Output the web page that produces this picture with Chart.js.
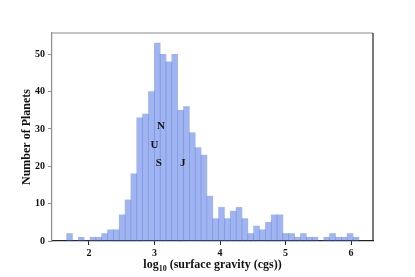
<!DOCTYPE html>
<html>
<head>
<meta charset="utf-8">
<script src="https://cdn.jsdelivr.net/npm/chart.js@4"></script>
<style>
  body { margin: 0; background: #fff; }
</style>
</head>
<body>
<canvas id="hist" width="415" height="277"></canvas>
<script>
// histogram bins (log10 g, cgs) and planet counts
const binCenters = [
    1.704, 1.793, 1.882, 1.971, 2.060, 2.150, 2.239, 2.328, 2.417, 2.507,
    2.596, 2.685, 2.774, 2.863, 2.953, 3.042, 3.131, 3.220, 3.309, 3.399,
    3.488, 3.577, 3.666, 3.755, 3.845, 3.934, 4.023, 4.112, 4.201, 4.291,
    4.380, 4.469, 4.558, 4.647, 4.737, 4.826, 4.915, 5.004, 5.093, 5.183,
    5.272, 5.361, 5.450, 5.539, 5.629, 5.718, 5.807, 5.896, 5.985, 6.075
];
const counts = [
    2, 0, 1, 0, 1, 1, 2, 3, 3, 7,
    11, 18, 33, 34, 40, 53, 50, 48, 50, 35,
    36, 29, 25, 23, 12, 6, 9, 6, 8, 9,
    6, 2, 4, 3, 5, 7, 7, 2, 2, 1,
    2, 1, 1, 0, 1, 2, 1, 1, 2, 1
];
const xTicks = [2, 3, 4, 5, 6];
const yTicks = [0, 10, 20, 30, 40, 50];

// solar system planets marked on the plot
const planetLabels = ['N', 'U', 'S', 'J'];
const planetLogG = [3.04, 2.94, 3.02, 3.39];
const planetY = [30, 25, 20, 20];

const serif = '"Liberation Serif", "DejaVu Serif", serif';

const extras = {
    id: 'extras',
    afterDraw(chart) {
        const ctx = chart.ctx;
        const a = chart.chartArea;
        const xs = chart.scales.x, ys = chart.scales.y;
        ctx.save();

        // top + right spines
        ctx.lineWidth = 1.2;
        ctx.strokeStyle = '#8c8c8c';
        ctx.beginPath();
        ctx.moveTo(a.left, a.top);
        ctx.lineTo(a.right, a.top);
        ctx.stroke();
        ctx.strokeStyle = '#222';
        ctx.beginPath();
        ctx.moveTo(a.right, a.top);
        ctx.lineTo(a.right, a.bottom);
        ctx.stroke();

        // planet letters
        ctx.fillStyle = '#111';
        ctx.font = 'bold 11px ' + serif;
        ctx.textAlign = 'left';
        ctx.textBaseline = 'alphabetic';
        planetLabels.forEach((p, i) => {
            ctx.fillText(p, xs.getPixelForValue(planetLogG[i]), ys.getPixelForValue(planetY[i]));
        });

        // x title with subscript
        const big = 'bold 12px ' + serif, small = 'bold 8px ' + serif;
        ctx.font = big;
        const w1 = ctx.measureText('log').width;
        const w3 = ctx.measureText(' (surface gravity (cgs))').width;
        ctx.font = small;
        const w2 = ctx.measureText('10').width;
        let x = (a.left + a.right) / 2 - (w1 + w2 + w3) / 2;
        const base = 268;
        ctx.font = big;
        ctx.fillText('log', x, base);
        x += w1;
        ctx.font = small;
        ctx.fillText('10', x, base + 3);
        x += w2;
        ctx.font = big;
        ctx.fillText(' (surface gravity (cgs))', x, base);

        // y title
        ctx.translate(27, (a.top + a.bottom) / 2);
        ctx.rotate(-Math.PI / 2);
        ctx.textAlign = 'center';
        ctx.textBaseline = 'middle';
        ctx.font = 'bold 12px ' + serif;
        ctx.fillText('Number of Planets', 0, 0);
        ctx.restore();
    }
};

new Chart(document.getElementById('hist'), {
    type: 'bar',
    data: {
        datasets: [{
            data: binCenters.map((c, i) => ({ x: c, y: counts[i] })),
            backgroundColor: 'rgba(65, 105, 225, 0.5)',
            borderWidth: 0,
            barPercentage: 1,
            categoryPercentage: 1
        }]
    },
    options: {
        responsive: false,
        animation: false,
        layout: { padding: { top: 33, right: 42, left: 0, bottom: 0 } },
        plugins: {
            legend: { display: false },
            tooltip: { enabled: false }
        },
        scales: {
            x: {
                type: 'linear',
                offset: false,
                min: 1.436,
                max: 6.335,
                afterBuildTicks: s => { s.ticks = xTicks.map(v => ({ value: v })); },
                afterFit: s => { s.height = 36; },
                grid: { offset: false, drawOnChartArea: false, tickLength: 4, color: '#222' },
                border: { color: '#222', width: 1.2 },
                ticks: {
                    color: '#111',
                    padding: 2,
                    maxRotation: 0,
                    font: { family: serif, size: 10, weight: 'bold' }
                }
            },
            y: {
                min: 0,
                max: 55.7,
                afterBuildTicks: s => { s.ticks = yTicks.map(v => ({ value: v })); },
                afterFit: s => { s.width = 52; },
                grid: { drawOnChartArea: false, tickLength: 4, color: '#8c8c8c' },
                border: { color: '#8c8c8c', width: 1.2 },
                ticks: {
                    color: '#111',
                    padding: 3,
                    font: { family: serif, size: 10, weight: 'bold' }
                }
            }
        }
    },
    plugins: [extras]
});
</script>
</body>
</html>
